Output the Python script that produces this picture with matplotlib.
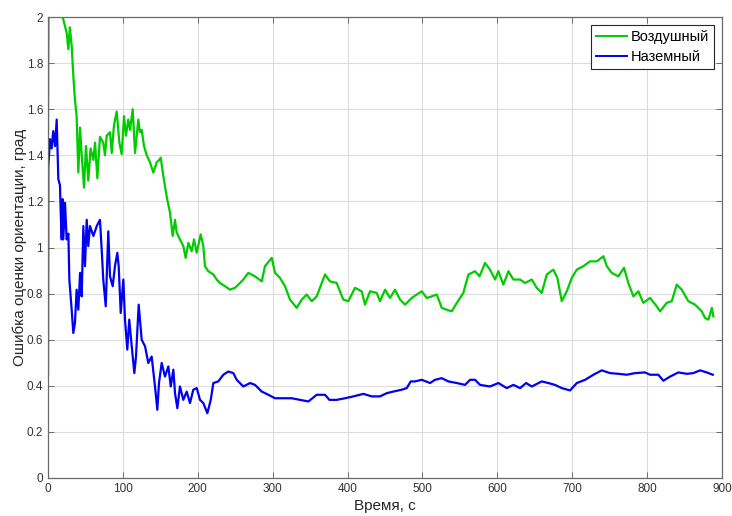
import matplotlib
matplotlib.use('Agg')
import matplotlib.pyplot as plt
from matplotlib.ticker import FuncFormatter

plt.rcParams['font.family'] = ['Liberation Sans', 'DejaVu Sans']

# error of the air-based system, deg
t_air = [0, 1, 10, 18, 19.6, 22.7, 25, 27.2, 29.2, 31.6, 33.8, 36, 38.2, 40.5, 42.8, 45,
         48.1, 50.7, 53.8, 56.9, 60.6, 62.8, 65.9, 69.4, 73.8, 76.1, 78.4, 82.8, 85.1,
         88.1, 91.7, 95.3, 98.4, 101.5, 104.1, 107.2, 109.6, 113.1, 116.2, 120.6, 122.8,
         125.1, 128.2, 131.8, 136.2, 140.6, 145.2, 148.7, 150.5, 154, 158.5, 163, 166.5,
         169.6, 171.8, 176.2, 180.7, 183.8, 187.4, 191.8, 195, 198.6, 203.9, 207.4, 209.6,
         214, 220.8, 225.3, 229.7, 236.4, 243, 249.7, 252, 256.4, 260.8, 267.5, 276.4,
         285.4, 289.7, 298.8, 303.1, 309.8, 316.5, 323.1, 332.1, 338.8, 345.5, 352.1,
         358.8, 369.9, 376.5, 385.5, 394.3, 401, 409.9, 418.9, 423.3, 430, 438.9, 443.3,
         450.1, 456.7, 463.4, 470.1, 476.7, 485.7, 492.3, 499.1, 505.7, 512.5, 519.1,
         525.8, 532.5, 539.1, 545.9, 554.6, 561.4, 570.2, 576.2, 583.6, 590.2, 597,
         601.4, 608, 614.8, 621.4, 630.4, 637, 646, 652.6, 659.3, 666, 674.8, 680.2, 686,
         692.7, 699.4, 706.1, 714.9, 723.8, 732.8, 741.6, 746.1, 752.8, 761.6, 769.2,
         774.9, 781.7, 788.3, 795, 803.9, 812.8, 817.3, 826.2, 832.9, 839.6, 846.2,
         855.1, 864, 873, 877.4, 881.9, 886.4, 888.5]
e_air = [1.50, 2.3, 2.4, 2.1, 2.0, 1.96, 1.93, 1.86, 1.955, 1.875, 1.745, 1.64, 1.57, 1.325,
         1.52, 1.40, 1.26, 1.44, 1.29, 1.43, 1.38, 1.455, 1.30, 1.48, 1.455, 1.40, 1.485,
         1.50, 1.41, 1.53, 1.59, 1.455, 1.405, 1.57, 1.485, 1.555, 1.51, 1.60, 1.41, 1.555,
         1.50, 1.51, 1.44, 1.40, 1.37, 1.325, 1.37, 1.38, 1.39, 1.31, 1.22, 1.15, 1.05,
         1.12, 1.065, 1.035, 1.006, 0.955, 1.02, 0.984, 1.035, 0.977, 1.057, 1.006, 0.919,
         0.897, 0.883, 0.861, 0.846, 0.832, 0.817, 0.825, 0.832, 0.846, 0.861, 0.89, 0.875,
         0.853, 0.919, 0.955, 0.89, 0.868, 0.832, 0.774, 0.738, 0.774, 0.796, 0.767,
         0.788, 0.883, 0.853, 0.846, 0.774, 0.767, 0.825, 0.81, 0.752, 0.81, 0.803, 0.767,
         0.817, 0.781, 0.817, 0.774, 0.752, 0.781, 0.796, 0.81, 0.781, 0.788, 0.796,
         0.738, 0.73, 0.723, 0.76, 0.803, 0.883, 0.897, 0.875, 0.933, 0.904, 0.861,
         0.897, 0.839, 0.897, 0.861, 0.861, 0.846, 0.861, 0.825, 0.803, 0.883, 0.904,
         0.868, 0.767, 0.81, 0.868, 0.904, 0.919, 0.94, 0.94, 0.962, 0.919, 0.89, 0.875,
         0.912, 0.846, 0.788, 0.81, 0.76, 0.781, 0.745, 0.723, 0.76, 0.767, 0.839, 0.817,
         0.767, 0.752, 0.723, 0.694, 0.687, 0.738, 0.701]

# error of the ground-based system, deg
t_gnd = [0, 0.4, 2.7, 4.9, 7, 9.4, 11.6, 13.8, 16, 17, 18.3, 19.5, 20.4, 22.7, 24.9, 27.2,
         28.5, 31.6, 33.8, 36, 38.2, 40.5, 42.8, 45, 47.2, 49.4, 51.7, 53.8, 56.1, 60.6,
         65.1, 69.4, 71.7, 73.8, 77.1, 80.5, 82.8, 86.4, 89.4, 92.6, 94.4, 97.1, 100.6,
         102.8, 105.9, 108.5, 111.8, 115.3, 117.5, 121.1, 125.1, 129.6, 133.9, 138.4,
         142.9, 146, 148.2, 151.8, 156.2, 160.7, 163.9, 167.4, 169.6, 172.7, 176.2, 180.7,
         185.2, 189.6, 194, 198.6, 203, 207.4, 212.8, 217.3, 220.8, 227.4, 234.1, 240.8,
         247.5, 252, 260.8, 269.8, 276.4, 285.4, 294.3, 303.1, 314.3, 325.5, 336.6, 347.7,
         358.8, 369.9, 375.7, 385.5, 396.7, 407.7, 421.1, 432.3, 443.3, 452.3, 461.2,
         472.3, 479, 484.4, 490.1, 499.1, 510.2, 516.8, 525.8, 534.6, 545.9, 556.9, 563.6,
         570.2, 576.9, 590.2, 601.4, 612.6, 621.4, 630.4, 638.4, 646, 659.3, 668, 677, 686,
         697.1, 706.1, 717.2, 728.3, 739.4, 750.6, 761.6, 772.8, 783.9, 797.3, 803.9, 815,
         821.7, 830.7, 841.7, 853, 861.7, 870.7, 879.6, 887.7]
e_gnd = [0.45, 1.35, 1.47, 1.43, 1.505, 1.44, 1.555, 1.296, 1.27, 1.15, 1.035, 1.21, 1.035,
         1.194, 1.035, 1.06, 0.861, 0.73, 0.629, 0.673, 0.817, 0.73, 0.89, 0.788, 1.093,
         0.919, 1.12, 1.006, 1.093, 1.05, 1.093, 1.12, 0.99, 0.861, 0.745, 1.07, 0.875,
         0.832, 0.919, 0.977, 0.919, 0.716, 0.861, 0.687, 0.557, 0.687, 0.571, 0.455, 0.527,
         0.752, 0.60, 0.571, 0.499, 0.527, 0.397, 0.296, 0.412, 0.499, 0.44, 0.484, 0.397,
         0.47, 0.368, 0.303, 0.397, 0.339, 0.375, 0.325, 0.383, 0.39, 0.339, 0.325, 0.281,
         0.339, 0.412, 0.419, 0.448, 0.462, 0.455, 0.426, 0.397, 0.412, 0.404, 0.375, 0.361,
         0.346, 0.346, 0.346, 0.339, 0.332, 0.361, 0.361, 0.339, 0.339, 0.346, 0.354, 0.365,
         0.354, 0.354, 0.368, 0.375, 0.383, 0.39, 0.419, 0.419, 0.426, 0.412, 0.426, 0.433,
         0.419, 0.412, 0.404, 0.426, 0.426, 0.404, 0.397, 0.412, 0.39, 0.404, 0.39, 0.412,
         0.397, 0.419, 0.412, 0.404, 0.39, 0.38, 0.412, 0.426, 0.448, 0.467, 0.455, 0.452,
         0.448, 0.455, 0.458, 0.448, 0.448, 0.422, 0.44, 0.458, 0.452, 0.455, 0.467, 0.458,
         0.448]

series_names = ['Воздушный', 'Наземный']

fig = plt.figure(figsize=(7.32, 5.16), dpi=100)
ax = fig.add_axes([48 / 732, 38 / 516, 674 / 732, 461 / 516])

ax.plot(t_air, e_air, color=(0.0, 0.8, 0.0), lw=1.6, label=series_names[0])
ax.plot(t_gnd, e_gnd, color=(0.0, 0.0, 0.95), lw=1.6, label=series_names[1])

ax.set_xlim(0, 900)
ax.set_ylim(0, 2)
ax.set_xticks(range(0, 901, 100))
ax.set_yticks([i * 0.2 for i in range(11)])
ax.yaxis.set_major_formatter(FuncFormatter(lambda v, p: '%g' % round(v, 1)))

ax.grid(True, color='#dcdcdc', lw=0.8)
ax.set_axisbelow(True)
for s in ax.spines.values():
    s.set_color('#6a6a6a')
    s.set_linewidth(0.9)
ax.tick_params(direction='in', top=True, right=True, length=4, width=0.7,
               colors='#6a6a6a', labelcolor='#333333', labelsize=8.5)

ax.set_xlabel('Время, с', fontsize=11, color='#262626', labelpad=3)
ax.set_ylabel('Ошибка оценки ориентации, град', fontsize=11, color='#262626', labelpad=0)

leg = ax.legend(loc='upper right', bbox_to_anchor=(0.988, 0.983), fontsize=10.5,
                handlelength=2.1, handletextpad=0.25, borderpad=0.35, labelspacing=0.4,
                fancybox=False, framealpha=1, edgecolor='#262626', borderaxespad=0)
leg.get_frame().set_linewidth(0.8)
for ln in leg.get_lines():
    ln.set_linewidth(1.4)

fig.savefig('out.png', dpi=100)
